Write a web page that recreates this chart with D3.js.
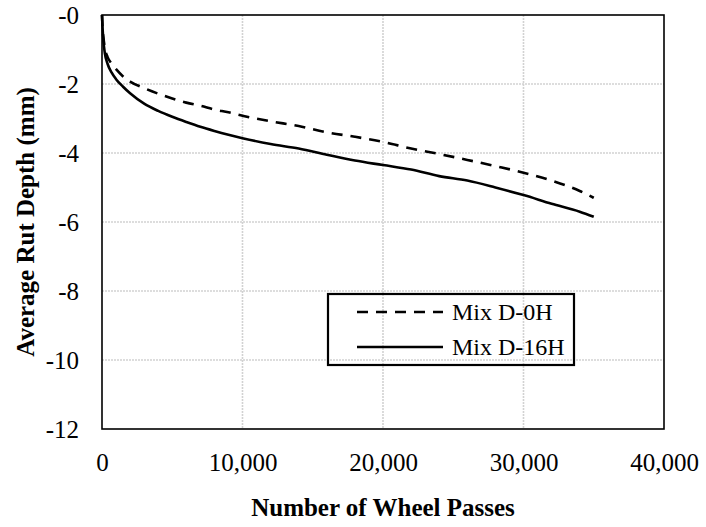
<!DOCTYPE html>
<html>
<head>
<meta charset="utf-8">
<script src="https://cdn.jsdelivr.net/npm/d3@7"></script>
<style>
  html, body { margin: 0; padding: 0; background: #fff; }
  svg { display: block; }
  text { font-family: "Liberation Serif", "Times New Roman", serif; fill: #000; }
</style>
</head>
<body>
<svg id="chart" width="706" height="527"></svg>
<script>
// Wheel passes (x) and average rut depth in mm (negative = downward)
const passes = [0, 50, 100, 200, 400, 700, 1000, 1500, 2000, 3000, 4000, 5000, 6000, 7000, 8000,
  9000, 10000, 12000, 14000, 16000, 18000, 20000, 22000, 24000, 26000, 28000, 30000, 32000, 34000, 35000];

const mixD0H = [0, -0.45, -0.65, -0.95, -1.22, -1.42, -1.57, -1.78, -1.93, -2.12, -2.28, -2.42, -2.54, -2.63, -2.74,
  -2.82, -2.92, -3.08, -3.22, -3.40, -3.53, -3.68, -3.87, -4.03, -4.20, -4.38, -4.57, -4.80, -5.10, -5.30];

const mixD16H = [0, -0.45, -0.75, -1.10, -1.42, -1.68, -1.86, -2.08, -2.27, -2.57, -2.78, -2.95, -3.10, -3.24, -3.36,
  -3.47, -3.57, -3.74, -3.87, -4.05, -4.22, -4.35, -4.48, -4.67, -4.80, -5.00, -5.22, -5.47, -5.70, -5.85];

const seriesNames = ["Mix D-0H", "Mix D-16H"];
const xTicks = [0, 10000, 20000, 30000, 40000];
const yTicks = [0, -2, -4, -6, -8, -10, -12];

const serif = '"Liberation Serif", "Times New Roman", serif';
const svg = d3.select("#chart");
const plot = { left: 102, top: 15, right: 664, bottom: 429 };

const x = d3.scaleLinear().domain([0, 40000]).range([plot.left, plot.right]);
const y = d3.scaleLinear().domain([-12, 0]).range([plot.bottom, plot.top]);

// Gridlines
const grid = svg.append("g").attr("stroke", "#d2d2d2").attr("stroke-width", 1.6).attr("stroke-dasharray", "2,1");
grid.selectAll("line.h").data(yTicks.filter(d => d !== 0 && d !== -12)).join("line")
  .attr("x1", plot.left).attr("x2", plot.right)
  .attr("y1", d => y(d)).attr("y2", d => y(d));
grid.selectAll("line.v").data(xTicks.filter(d => d !== 0 && d !== 40000)).join("line")
  .attr("y1", plot.top).attr("y2", plot.bottom)
  .attr("x1", d => x(d)).attr("x2", d => x(d));

// Axes (labels only; the frame is drawn separately)
const fmtY = d => "-" + Math.abs(d);
const xAxis = d3.axisBottom(x).tickValues(xTicks).tickSize(0).tickPadding(24)
  .tickFormat(d => d === 0 ? "0" : d3.format(",")(d));
const yAxis = d3.axisLeft(y).tickValues(yTicks).tickSize(0).tickPadding(23).tickFormat(fmtY);

const gx = svg.append("g").attr("transform", `translate(0,${plot.bottom})`).call(xAxis);
const gy = svg.append("g").attr("transform", `translate(${plot.left},0)`).call(yAxis);
[gx, gy].forEach(g => {
  g.attr("font-family", serif).attr("font-size", 25);
  g.select(".domain").remove();
  g.selectAll("text").style("font-family", serif).style("font-size", "25px").attr("fill", "#000");
});

// Series lines
const line = d3.line().x((d, i) => x(passes[i])).y(d => y(d)).curve(d3.curveMonotoneX);

svg.append("path").datum(mixD0H)
  .attr("d", line).attr("fill", "none").attr("stroke", "#000")
  .attr("stroke-width", 2.6).attr("stroke-dasharray", "11,8");

svg.append("path").datum(mixD16H)
  .attr("d", line).attr("fill", "none").attr("stroke", "#000")
  .attr("stroke-width", 2.6);

// Plot frame
svg.append("rect")
  .attr("x", plot.left).attr("y", plot.top)
  .attr("width", plot.right - plot.left).attr("height", plot.bottom - plot.top)
  .attr("fill", "none").attr("stroke", "#000").attr("stroke-width", 1.6);

// Legend
const lg = svg.append("g");
lg.append("rect").attr("x", 328).attr("y", 294).attr("width", 246).attr("height", 71)
  .attr("fill", "none").attr("stroke", "#000").attr("stroke-width", 2.2);
const rows = [
  { name: seriesNames[0], dash: "11,8", cy: 312 },
  { name: seriesNames[1], dash: null, cy: 347 }
];
rows.forEach(r => {
  lg.append("line").attr("x1", 357).attr("x2", 443).attr("y1", r.cy).attr("y2", r.cy)
    .attr("stroke", "#000").attr("stroke-width", 2.6)
    .attr("stroke-dasharray", r.dash);
  lg.append("text").attr("x", 452).attr("y", r.cy).attr("dy", "0.35em")
    .style("font-family", serif).style("font-size", "24px").text(r.name);
});

// Axis titles
svg.append("text")
  .attr("x", x(20000)).attr("y", 516)
  .attr("text-anchor", "middle")
  .style("font-family", serif).style("font-size", "25px").style("font-weight", "bold")
  .text("Number of Wheel Passes");

svg.append("text")
  .attr("transform", `translate(34,${(plot.top + plot.bottom) / 2}) rotate(-90)`)
  .attr("text-anchor", "middle")
  .style("font-family", serif).style("font-size", "25px").style("font-weight", "bold")
  .text("Average Rut Depth (mm)");
</script>
</body>
</html>
